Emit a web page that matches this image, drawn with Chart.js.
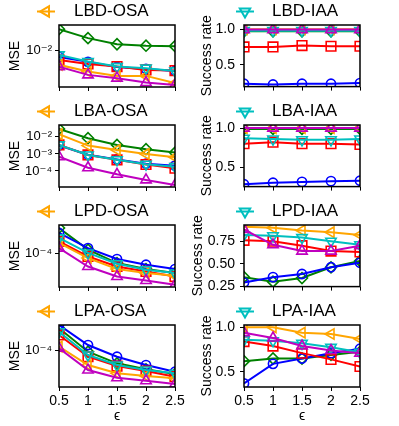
<!DOCTYPE html>
<html>
<head>
<meta charset="utf-8">
<script src="https://cdn.jsdelivr.net/npm/chart.js@4.4.0/dist/chart.umd.min.js"></script>
<style>
html, body { margin: 0; padding: 0; background: #fff; }
#fig { position: relative; width: 399px; height: 426px; overflow: hidden; }
#fig canvas { position: absolute; }
</style>
</head>
<body>
<div id="fig"></div>
<script>
// epsilon values on the x axis
const eps = [0.5, 1, 1.5, 2, 2.5];

// every panel: rows in order green, red, blue, orange, cyan, magenta
const lbdOsa = [
    [0.0230, 0.0163, 0.0129, 0.0122, 0.0120],
    [0.00708, 0.00607, 0.00547, 0.00482, 0.00470],
    [0.00794, 0.00656, 0.00541, 0.00501, 0.00464],
    [0.00585, 0.00452, 0.00383, 0.00383, 0.00290],
    [0.00858, 0.00663, 0.00547, 0.00515, 0.00464],
    [0.00547, 0.00398, 0.00351, 0.00296, 0.00271]
];
const lbaOsa = [
    [0.0295, 0.0084, 0.0034, 0.0019, 0.0012],
    [0.0034, 0.00087, 0.00045, 0.00024, 0.000145],
    [0.0032, 0.00090, 0.00048, 0.00027, 0.000205],
    [0.0145, 0.0031, 0.00173, 0.0010, 0.00064],
    [0.0034, 0.00087, 0.00046, 0.00025, 0.00018],
    [0.00069, 0.000155, 0.000064, 0.000030, 0.000015]
];
const lpdOsa = [
    [2.68e-4, 1.17e-4, 7.0e-5, 5.56e-5, 4.77e-5],
    [1.60e-4, 9.0e-5, 6.14e-5, 5.07e-5, 4.18e-5],
    [2.21e-4, 1.24e-4, 8.16e-5, 6.56e-5, 5.56e-5],
    [1.51e-4, 8.48e-5, 5.56e-5, 4.77e-5, 4.30e-5],
    [1.83e-4, 1.03e-4, 6.81e-5, 5.41e-5, 4.77e-5],
    [1.24e-4, 6.14e-5, 4.18e-5, 3.59e-5, 3.04e-5]
];
const lpaOsa = [
    [2.30e-4, 9.37e-5, 6.0e-5, 4.77e-5, 3.98e-5],
    [1.78e-4, 7.73e-5, 5.41e-5, 4.47e-5, 3.59e-5],
    [2.61e-4, 1.21e-4, 7.73e-5, 5.62e-5, 4.35e-5],
    [1.14e-4, 5.62e-5, 4.09e-5, 3.69e-5, 3.37e-5],
    [2.02e-4, 8.26e-5, 5.62e-5, 4.64e-5, 4.09e-5],
    [1.07e-4, 4.64e-5, 3.45e-5, 3.08e-5, 2.71e-5]
];
const lbdIaa = [
    [0.97, 0.97, 0.97, 0.97, 0.97],
    [0.75, 0.75, 0.77, 0.76, 0.76],
    [0.23, 0.22, 0.23, 0.23, 0.24],
    [1.0, 1.0, 1.0, 1.0, 1.0],
    [0.98, 0.98, 0.98, 0.98, 0.98],
    [0.995, 0.995, 0.995, 0.995, 0.995]
];
const lbaIaa = [
    [0.99, 0.99, 0.99, 0.99, 0.99],
    [0.80, 0.82, 0.80, 0.80, 0.79],
    [0.28, 0.30, 0.31, 0.32, 0.325],
    [1.0, 1.0, 1.0, 1.0, 1.0],
    [0.87, 0.86, 0.85, 0.85, 0.86],
    [1.0, 1.0, 1.0, 1.0, 1.0]
];
const lpdIaa = [
    [0.35, 0.30, 0.34, 0.46, 0.53],
    [0.76, 0.75, 0.70, 0.64, 0.63],
    [0.29, 0.35, 0.385, 0.46, 0.51],
    [0.91, 0.90, 0.87, 0.85, 0.82],
    [0.82, 0.81, 0.79, 0.75, 0.71],
    [0.88, 0.71, 0.64, 0.64, 0.70]
];
const lpaIaa = [
    [0.62, 0.65, 0.65, 0.69, 0.725],
    [0.84, 0.79, 0.71, 0.64, 0.56],
    [0.37, 0.59, 0.65, 0.71, 0.76],
    [1.0, 1.0, 0.94, 0.925, 0.87],
    [0.86, 0.85, 0.82, 0.775, 0.72],
    [0.94, 0.88, 0.79, 0.74, 0.71]
];

// tick labels
const mseTicksLbd = [1e-2];
const mseTicksLba = [1e-2, 1e-3, 1e-4];
const mseTicksLp = [1e-4];
const rateTicks = [0.5, 1.0];
const rateTicksLpd = [0.25, 0.5, 0.75];


// ---------------- styles ----------------
Chart.defaults.color = '#000';
Chart.defaults.font.family = '"Liberation Sans", "DejaVu Sans", sans-serif';

const colors = ['#008000', '#ff0000', '#0000ff', '#ffa500', '#00bfbf', '#bf00bf'];
const shapes = ['rectRot', 'rect', 'circle', 'triangle', 'triangle', 'triangle'];
const rotations = [0, 0, 0, -90, 180, 0];
const radii = [5.5, 6.8, 4.6, 6, 6, 6];
const layers = [5, 3, 4, 2, 1, 0];   // 0 = drawn on top

const SUP = {'-': '\u207b', '0': '\u2070', '1': '\u00b9', '2': '\u00b2', '3': '\u00b3',
             '4': '\u2074', '5': '\u2075', '6': '\u2076', '7': '\u2077', '8': '\u2078', '9': '\u2079'};
function powLabel(v) {
    const e = String(Math.round(Math.log10(v)));
    return '10' + e.split('').map(c => SUP[c]).join('');
}

// frame round the plot area
const framePlugin = {
    id: 'frame',
    afterDatasetsDraw(chart) {
        const a = chart.chartArea, ctx = chart.ctx;
        ctx.save();
        ctx.strokeStyle = '#000';
        ctx.lineWidth = 1.5;
        ctx.strokeRect(a.left, a.top, a.right - a.left, a.bottom - a.top);
        ctx.restore();
    }
};

// one-entry key above each panel (line + marker + label)
const keyPlugin = {
    id: 'keyEntry',
    afterDraw(chart, args, opts) {
        const ctx = chart.ctx;
        const y = 11.5;
        ctx.save();
        ctx.strokeStyle = opts.color;
        ctx.lineWidth = 2;
        ctx.beginPath();
        ctx.moveTo(opts.x - 9, y);
        ctx.lineTo(opts.x + 9, y);
        ctx.stroke();
        ctx.fillStyle = 'rgba(0,0,0,0)';
        Chart.helpers.drawPoint(ctx, {pointStyle: 'triangle', radius: 6, rotation: opts.rotation, borderWidth: 1.5}, opts.x, y);
        ctx.fillStyle = '#000';
        ctx.font = '17px "Liberation Sans", "DejaVu Sans", sans-serif';
        ctx.textBaseline = 'middle';
        ctx.textAlign = 'left';
        ctx.fillText(opts.label, opts.textX, y);
        ctx.restore();
    }
};


// ---------------- panels ----------------
const panels = [
    {name: 'LBD-OSA', rows: lbdOsa, row: 0, col: 0, log: true, min: 0.0025, max: 0.027, ticks: mseTicksLbd},
    {name: 'LBD-IAA', rows: lbdIaa, row: 0, col: 1, log: false, min: 0.19, max: 1.06, ticks: rateTicks},
    {name: 'LBA-OSA', rows: lbaOsa, row: 1, col: 0, log: true, min: 1.15e-5, max: 0.05, ticks: mseTicksLba},
    {name: 'LBA-IAA', rows: lbaIaa, row: 1, col: 1, log: false, min: 0.25, max: 1.04, ticks: rateTicks},
    {name: 'LPD-OSA', rows: lpdOsa, row: 2, col: 0, log: true, min: 2.8e-5, max: 3.0e-4, ticks: mseTicksLp},
    {name: 'LPD-IAA', rows: lpdIaa, row: 2, col: 1, log: false, min: 0.245, max: 0.93, ticks: rateTicksLpd, titlePad: 5},
    {name: 'LPA-OSA', rows: lpaOsa, row: 3, col: 0, log: true, min: 2.42e-5, max: 2.61e-4, ticks: mseTicksLp},
    {name: 'LPA-IAA', rows: lpaIaa, row: 3, col: 1, log: false, min: 0.33, max: 1.026, ticks: rateTicks}
];

const fig = document.getElementById('fig');

panels.forEach(p => {
    const left = p.col === 0 ? 0 : 185;
    const width = p.col === 0 ? 199 : 214;
    const top = 100 * p.row;
    const last = p.row === 3;
    const height = last ? 126 : 100;

    const canvas = document.createElement('canvas');
    canvas.width = width;
    canvas.height = height;
    canvas.style.left = left + 'px';
    canvas.style.top = top + 'px';
    fig.appendChild(canvas);

    const datasets = p.rows.map((vals, i) => ({
        data: eps.map((x, j) => ({x: x, y: vals[j]})),
        borderColor: colors[i],
        borderWidth: 2,
        pointStyle: shapes[i],
        pointRotation: rotations[i],
        pointRadius: radii[i],
        pointBorderWidth: 1.6,
        pointBorderColor: colors[i],
        pointBackgroundColor: 'rgba(0,0,0,0)',
        tension: 0,
        clip: 0,
        order: layers[i]
    }));

    const isOsa = p.col === 0;

    new Chart(canvas.getContext('2d'), {
        type: 'line',
        data: {datasets: datasets},
        plugins: [framePlugin, keyPlugin],
        options: {
            responsive: false,
            animation: false,
            devicePixelRatio: 1,
            layout: {padding: {top: 25, left: 0, right: isOsa ? 24 : 39, bottom: 0}},
            plugins: {
                legend: {display: false},
                tooltip: {enabled: false},
                keyEntry: {
                    label: p.name,
                    color: isOsa ? colors[3] : colors[4],
                    rotation: isOsa ? -90 : 180,
                    x: isOsa ? 46 : 60,
                    textX: isOsa ? 74 : 87
                }
            },
            scales: {
                x: {
                    type: 'linear',
                    min: 0.5,
                    max: 2.5,
                    border: {display: false},
                    grid: {drawOnChartArea: false, drawTicks: true, tickLength: 4, color: '#000'},
                    afterBuildTicks: s => { s.ticks = eps.map(v => ({value: v})); },
                    afterFit: s => { s.height = last ? 39 : 13; },
                    ticks: {
                        autoSkip: false,
                        maxRotation: 0,
                        padding: 2,
                        font: {size: 14},
                        callback: v => last ? String(v) : ''
                    },
                    title: {
                        display: last,
                        text: '\u03f5',
                        font: {size: 14},
                        padding: {top: 0, bottom: 1}
                    }
                },
                y: {
                    type: p.log ? 'logarithmic' : 'linear',
                    min: p.min,
                    max: p.max,
                    border: {display: false},
                    grid: {drawOnChartArea: false, drawTicks: true, tickLength: 4, color: '#000'},
                    afterBuildTicks: s => { s.ticks = p.ticks.map(v => ({value: v})); },
                    afterFit: s => { s.width = 59; },
                    ticks: {
                        autoSkip: false,
                        padding: p.log ? 3 : 5,
                        font: {size: p.log ? 13 : 14},
                        callback: v => p.log ? powLabel(v) : (p.ticks === rateTicksLpd ? v.toFixed(2) : v.toFixed(1))
                    },
                    title: {
                        display: true,
                        text: isOsa ? 'MSE' : 'Success rate',
                        font: {size: 14},
                        padding: {top: isOsa ? 7 : (p.titlePad !== undefined ? p.titlePad : 14), bottom: 0}
                    }
                }
            }
        }
    });
});
</script>
</body>
</html>
